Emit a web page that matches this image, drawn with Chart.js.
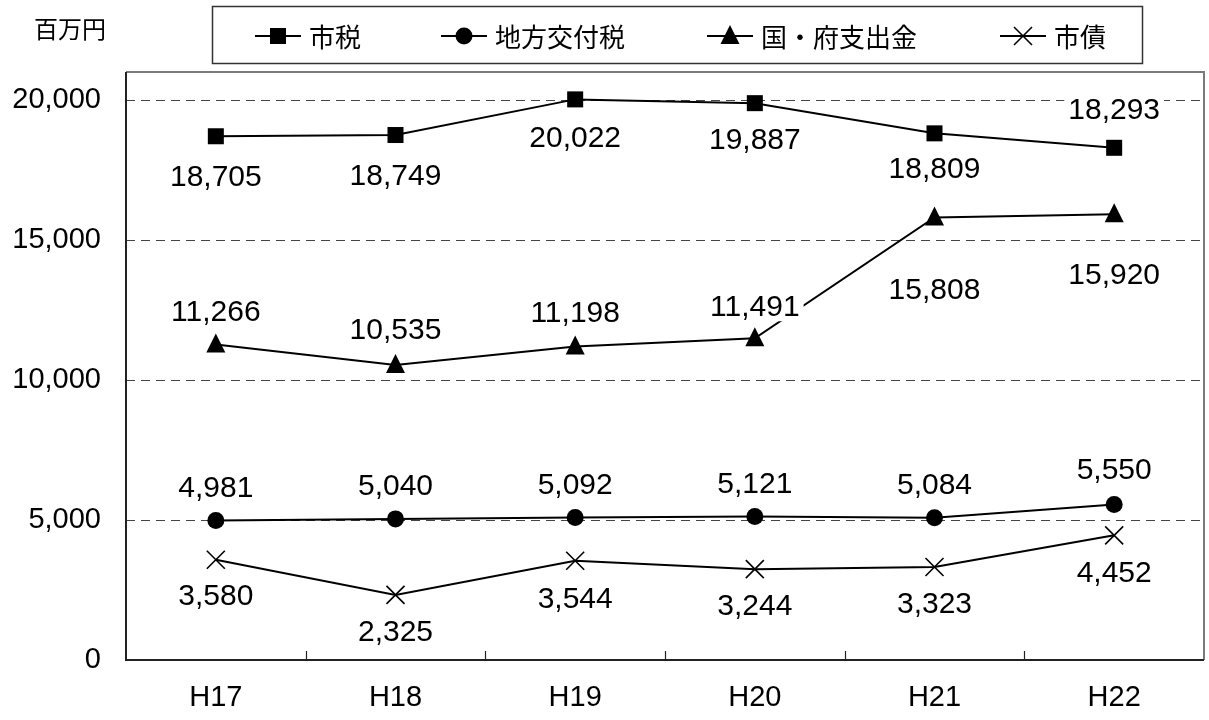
<!DOCTYPE html>
<html lang="ja">
<head>
<meta charset="utf-8">
<title>歳入の推移</title>
<script src="https://cdn.jsdelivr.net/npm/chart.js@4/dist/chart.umd.min.js"></script>
<style>
  html, body { margin: 0; padding: 0; background: #fff; }
  canvas { display: block; }
</style>
</head>
<body>
<canvas id="c" width="1209" height="720"></canvas>
<script>
// 年度
const categories = ['H17', 'H18', 'H19', 'H20', 'H21', 'H22'];

// 歳入の主な項目（百万円）
const cityTax        = [18705, 18749, 20022, 19887, 18809, 18293]; // 市税
const localAllocTax  = [4981, 5040, 5092, 5121, 5084, 5550];       // 地方交付税
const govGrants      = [11266, 10535, 11198, 11491, 15808, 15920]; // 国・府支出金
const cityBonds      = [3580, 2325, 3544, 3244, 3323, 4452];       // 市債

// 縦軸の目盛
const yTicks = [0, 5000, 10000, 15000, 20000];
const yMax = 21000;
const unitLabel = '百万円';

// 値ラベルの位置（点からの縦方向のずれ、負は上）
const cityTaxLabelShift   = [40, 41, 38, 37, 35, -38];
const allocLabelShift     = [-33, -33, -33, -33, -33, -35];
const grantsLabelShift    = [-33, -35, -34, -32, 72, 60];
const bondsLabelShift     = [36, 37, 38, 37, 37, 37];

const FONT = "'Liberation Sans', 'Noto Sans CJK JP', sans-serif";
const CJK_FONT = "'Noto Sans CJK JP', 'Noto Sans', sans-serif";

function drawMarker(ctx, style, x, y) {
  ctx.save();
  ctx.fillStyle = '#000';
  ctx.strokeStyle = '#000';
  ctx.beginPath();
  if (style === 'rect') {
    ctx.fillRect(x - 8, y - 8, 16, 16);
  } else if (style === 'circle') {
    ctx.arc(x, y, 8.5, 0, Math.PI * 2);
    ctx.fill();
  } else if (style === 'triangle') {
    ctx.moveTo(x, y - 11);
    ctx.lineTo(x + 9.5, y + 8);
    ctx.lineTo(x - 9.5, y + 8);
    ctx.closePath();
    ctx.fill();
  } else if (style === 'crossRot') {
    ctx.lineWidth = 1.6;
    ctx.moveTo(x - 9, y - 9); ctx.lineTo(x + 9, y + 9);
    ctx.moveTo(x + 9, y - 9); ctx.lineTo(x - 9, y + 9);
    ctx.stroke();
  }
  ctx.restore();
}

// 枠・破線の目盛線・軸・目盛
const framePlugin = {
  id: 'frame',
  beforeDatasetsDraw(chart) {
    const { ctx, chartArea: a, scales: { x, y } } = chart;
    ctx.save();
    // 上・右の枠
    ctx.strokeStyle = '#7a7a7a';
    ctx.lineWidth = 2;
    ctx.beginPath();
    ctx.moveTo(a.left, a.top); ctx.lineTo(a.right, a.top); ctx.lineTo(a.right, a.bottom);
    ctx.stroke();
    // 破線の目盛線
    ctx.strokeStyle = '#444';
    ctx.lineWidth = 1;
    ctx.setLineDash([9, 6]);
    yTicks.forEach(v => {
      if (v === 0) return;
      const py = Math.round(y.getPixelForValue(v)) + 0.5;
      ctx.beginPath();
      ctx.moveTo(a.left, py); ctx.lineTo(a.right, py);
      ctx.stroke();
    });
    ctx.setLineDash([]);
    // 軸
    ctx.strokeStyle = '#222';
    ctx.lineWidth = 2;
    ctx.beginPath();
    ctx.moveTo(a.left, a.top); ctx.lineTo(a.left, a.bottom); ctx.lineTo(a.right, a.bottom);
    ctx.stroke();
    // 横軸の区切り目盛（内向き）
    ctx.lineWidth = 1.2;
    for (let i = 1; i < categories.length; i++) {
      const px = Math.round((x.getPixelForValue(i - 1) + x.getPixelForValue(i)) / 2) + 0.5;
      ctx.beginPath();
      ctx.moveTo(px, a.bottom); ctx.lineTo(px, a.bottom - 9);
      ctx.stroke();
    }
    ctx.restore();
  }
};

// 値ラベル（白地付き）
const valueLabelPlugin = {
  id: 'valueLabels',
  afterDatasetsDraw(chart) {
    const { ctx } = chart;
    ctx.save();
    ctx.font = '30px ' + FONT;
    ctx.textAlign = 'center';
    ctx.textBaseline = 'middle';
    chart.data.datasets.forEach((ds, di) => {
      const meta = chart.getDatasetMeta(di);
      meta.data.forEach((pt, i) => {
        const text = ds.data[i].toLocaleString('en-US');
        const cx = pt.x;
        const cy = pt.y + ds.labelShift[i];
        const w = ctx.measureText(text).width;
        ctx.fillStyle = '#fff';
        ctx.fillRect(cx - w / 2 - 4, cy - 15, w + 8, 30);
        ctx.fillStyle = '#000';
        ctx.fillText(text, cx, cy + 1);
      });
    });
    ctx.restore();
  }
};

// 凡例・単位
const legendPlugin = {
  id: 'boxLegend',
  afterDraw(chart) {
    const { ctx } = chart;
    ctx.save();
    ctx.fillStyle = '#000';
    ctx.font = '24px ' + CJK_FONT;
    ctx.textAlign = 'left';
    ctx.textBaseline = 'middle';
    ctx.fillText(unitLabel, 34, 29);

    ctx.fillStyle = '#fff';
    ctx.fillRect(212, 6, 931, 58);
    ctx.strokeStyle = '#333';
    ctx.lineWidth = 1.5;
    ctx.strokeRect(212.5, 6.5, 930, 57);

    const items = [
      { x: 255, style: 'rect' },
      { x: 441, style: 'circle' },
      { x: 707, style: 'triangle' },
      { x: 1000, style: 'crossRot' }
    ];
    const cy = 36;
    ctx.font = '26px ' + CJK_FONT;
    chart.data.datasets.forEach((ds, i) => {
      const it = items[i];
      ctx.strokeStyle = '#000';
      ctx.lineWidth = 2;
      ctx.beginPath();
      ctx.moveTo(it.x, cy); ctx.lineTo(it.x + 46, cy);
      ctx.stroke();
      drawMarker(ctx, it.style, it.x + 23, cy);
      ctx.fillStyle = '#000';
      ctx.fillText(ds.label, it.x + 54, cy + 1);
    });
    ctx.restore();
  }
};

// 系列の点の描画（独自マーカー）
const markerPlugin = {
  id: 'markers',
  afterDatasetsDraw(chart) {
    const { ctx } = chart;
    chart.data.datasets.forEach((ds, di) => {
      chart.getDatasetMeta(di).data.forEach(pt => drawMarker(ctx, ds.marker, pt.x, pt.y));
    });
  }
};

const lineStyle = {
  borderColor: '#000',
  borderWidth: 2,
  pointRadius: 0,
  pointHoverRadius: 0,
  tension: 0,
  fill: false
};

new Chart(document.getElementById('c'), {
  type: 'line',
  data: {
    labels: categories,
    datasets: [
      { label: '市税', data: cityTax, marker: 'rect', labelShift: cityTaxLabelShift, ...lineStyle },
      { label: '地方交付税', data: localAllocTax, marker: 'circle', labelShift: allocLabelShift, ...lineStyle },
      { label: '国・府支出金', data: govGrants, marker: 'triangle', labelShift: grantsLabelShift, ...lineStyle },
      { label: '市債', data: cityBonds, marker: 'crossRot', labelShift: bondsLabelShift, ...lineStyle }
    ]
  },
  options: {
    responsive: false,
    animation: false,
    devicePixelRatio: 1,
    layout: { padding: { top: 72, right: 5, left: 0, bottom: 0 } },
    plugins: { legend: { display: false }, tooltip: { enabled: false } },
    scales: {
      x: {
        offset: true,
        grid: { display: false, drawTicks: false },
        border: { display: false },
        ticks: { color: '#000', font: { family: FONT, size: 29 }, padding: 21 },
        afterFit(s) { s.height = 60; }
      },
      y: {
        min: 0,
        max: yMax,
        grid: { display: false, drawTicks: false },
        border: { display: false },
        afterBuildTicks(s) { s.ticks = yTicks.map(v => ({ value: v })); },
        ticks: {
          color: '#000',
          font: { family: FONT, size: 29 },
          padding: 25,
          callback: v => Number(v).toLocaleString('en-US')
        },
        afterFit(s) { s.width = 126; }
      }
    }
  },
  plugins: [framePlugin, markerPlugin, valueLabelPlugin, legendPlugin]
});
</script>
</body>
</html>
